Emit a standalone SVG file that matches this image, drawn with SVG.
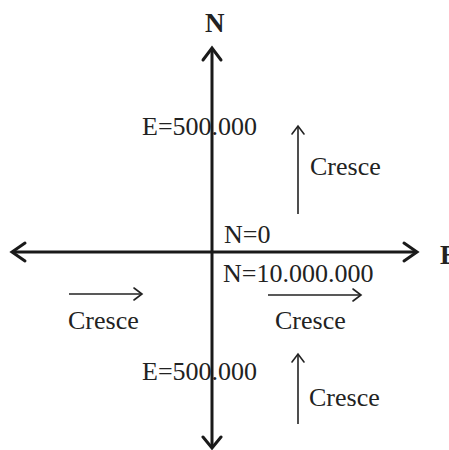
<svg xmlns="http://www.w3.org/2000/svg" width="449" height="450" viewBox="0 0 449 450">
<style>
.t{font-family:"Liberation Serif","Times New Roman",serif;font-size:26px;fill:#222}
.b{font-family:"Liberation Serif","Times New Roman",serif;font-size:27px;font-weight:bold;fill:#222}
.ax{stroke:#1a1a1a;stroke-width:3;fill:none}
.ah{stroke:#1a1a1a;stroke-width:3;fill:none;stroke-linecap:round;stroke-linejoin:miter}
.sm{stroke:#222;stroke-width:1.6;fill:none}
.sh{stroke:#222;stroke-width:1.6;fill:none;stroke-linecap:round}
</style>
<rect width="449" height="450" fill="#fff"/>
<g id="connectors">
<line class="ax" x1="212" y1="48" x2="212" y2="448"/>
<polyline class="ah" points="203,60 212,48 221,60"/>
<polyline class="ah" points="203,437 212,448 221,437"/>
<line class="ax" x1="12" y1="252" x2="417" y2="252"/>
<polyline class="ah" points="25,243 12,252 25,261"/>
<polyline class="ah" points="404,243 417,252 404,261"/>
<line class="sm" x1="298" y1="214" x2="298" y2="126"/>
<polyline class="sh" points="292,134 298,126 304,134"/>
<line class="sm" x1="298" y1="424" x2="298" y2="354"/>
<polyline class="sh" points="292,362 298,354 304,362"/>
<line class="sm" x1="69" y1="294" x2="142" y2="294"/>
<polyline class="sh" points="134,288 142,294 134,300"/>
<line class="sm" x1="268" y1="295" x2="361" y2="295"/>
<polyline class="sh" points="353,289 361,295 353,301"/>
</g>
<g id="label-N"><text class="b" x="205" y="32">N</text></g>
<g id="label-E"><text class="b" x="440" y="264">E</text></g>
<g id="e-top"><text class="t" x="142" y="135">E=500.000</text></g>
<g id="cresce-1"><text class="t" x="310" y="175">Cresce</text></g>
<g id="n0"><text class="t" x="224" y="243">N=0</text></g>
<g id="n10"><text class="t" x="223" y="282">N=10.000.000</text></g>
<g id="cresce-2"><text class="t" x="68" y="329">Cresce</text></g>
<g id="cresce-3"><text class="t" x="275" y="329">Cresce</text></g>
<g id="e-bottom"><text class="t" x="142" y="380">E=500.000</text></g>
<g id="cresce-4"><text class="t" x="309" y="406">Cresce</text></g>
</svg>
